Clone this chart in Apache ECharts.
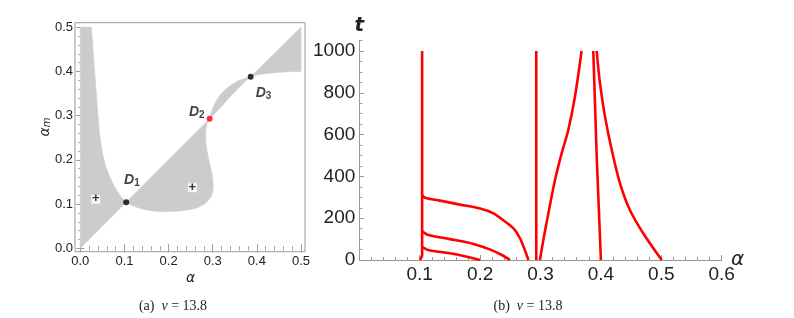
<!DOCTYPE html>
<html>
<head>
<meta charset="utf-8">
<script src="https://cdn.jsdelivr.net/npm/echarts@6/dist/echarts.min.js"></script>
<style>html,body{margin:0;padding:0;background:#fff}#c{width:794px;height:318px}</style>
</head>
<body>
<div id="c"></div>
<script>
// ---------- Panel (a) data ----------
const ticksA = [0, 0.1, 0.2, 0.3, 0.4, 0.5];
const regionLeft = [[0,0],[0.104,0.104],[0.092,0.117],[0.082,0.132],[0.072,0.150],[0.064,0.168],[0.057,0.188],[0.051,0.212],[0.047,0.235],[0.043,0.265],[0.040,0.300],[0.037,0.340],[0.034,0.380],[0.031,0.420],[0.028,0.460],[0.025,0.5],[0,0.5]];
const regionMiddle = [[0.104,0.104],[0.293,0.293],[0.287,0.282],[0.284,0.265],[0.284,0.245],[0.286,0.228],[0.289,0.210],[0.293,0.192],[0.297,0.175],[0.300,0.158],[0.301,0.142],[0.300,0.128],[0.296,0.116],[0.288,0.106],[0.278,0.098],[0.265,0.092],[0.250,0.088],[0.230,0.085],[0.205,0.083],[0.180,0.083],[0.160,0.085],[0.140,0.089],[0.125,0.094],[0.113,0.099]];
const regionLens = [[0.293,0.293],[0.296,0.305],[0.300,0.317],[0.306,0.330],[0.314,0.343],[0.323,0.354],[0.334,0.364],[0.346,0.372],[0.358,0.379],[0.372,0.384],[0.386,0.388],[0.375,0.379],[0.362,0.366],[0.348,0.352],[0.334,0.337],[0.320,0.321],[0.307,0.307]];
const regionRight = [[0.386,0.388],[0.5,0.5],[0.5,0.400],[0.47,0.3995],[0.44,0.397],[0.42,0.395],[0.405,0.393],[0.395,0.391]];
const pointsD = [[0.104,0.104],[0.293,0.293],[0.386,0.388]];
const pointColors = ['#000000','#ff0000','#000000'];
const dSubscripts = ['1','2','3'];
const dLabelPos = [[0.117,0.155],[0.264,0.307],[0.415,0.351]];
const plusPoints = [[0.035,0.111],[0.254,0.137]];

// ---------- Panel (b) data ----------
const ticksBx = [0.1, 0.2, 0.3, 0.4, 0.5, 0.6];
const ticksBy = [0, 200, 400, 600, 800, 1000];
const curveVert1 = [[0.1005,0],[0.104,20],[0.104,1000]];
const curveTop = [[0.104,312],[0.106,304],[0.1116,295],[0.1336,284],[0.1667,265],[0.2,246],[0.222,223],[0.238,191],[0.255,152],[0.266,104],[0.274,48],[0.280,0]];
const curveMid = [[0.104,138],[0.106,133],[0.114,120],[0.150,100],[0.189,77],[0.216,51],[0.236,24],[0.2495,0]];
const curveLow = [[0.104,64],[0.106,59],[0.114,48],[0.150,32],[0.178,16],[0.2,0]];
const curveVert2 = [[0.293,0],[0.293,1000]];
const curveRise = [[0.299,0],[0.3047,96],[0.313,223],[0.324,383],[0.335,510],[0.346,622],[0.357,781],[0.368,1000]];
const curveSteep = [[0.3874,1000],[0.393,500],[0.400,0]];
const curveFall = [[0.393,1000],[0.3985,845],[0.4068,686],[0.418,526],[0.4316,367],[0.448,239],[0.470,128],[0.5007,0]];

const near = (v, arr) => arr.some(t => Math.abs(v - t) < 1e-6);
const GRAY = '#999999';
const TXT = '#222222';
const SANS = 'Liberation Sans, Arial, sans-serif';

const chart = echarts.init(document.getElementById('c'), null, {renderer: 'canvas'});

function polySeries(points) {
  return {
    type: 'custom', xAxisIndex: 0, yAxisIndex: 0, silent: true, z: 1,
    data: [points[0]],
    renderItem: function (params, api) {
      return {type: 'polygon', shape: {points: points.map(p => api.coord(p))}, style: {fill: '#cccccc', stroke: '#cccccc', lineWidth: 0.6}};
    }
  };
}

function redLine(data, smooth) {
  return {type: 'line', xAxisIndex: 2, yAxisIndex: 2, data: data, showSymbol: false, symbol: 'none', smooth: smooth, silent: true,
    lineStyle: {color: '#ff0000', width: 2.6}, z: 3};
}

const aTickBase = {inside: true, lineStyle: {color: GRAY}};
const option = {
  animation: false,
  grid: [
    {left: 80.3, top: 27.3, width: 220.7, height: 221, containLabel: false},
    {left: 359.3, top: 40.55, width: 362.4, height: 219.45, containLabel: false}
  ],
  xAxis: [
    {gridIndex: 0, type: 'value', min: 0, max: 0.5, interval: 0.1, position: 'bottom', offset: 3.4,
      axisLine: {show: false}, splitLine: {show: false},
      axisTick: Object.assign({length: 4}, aTickBase),
      minorTick: {show: true, splitNumber: 5, length: 2, lineStyle: {color: GRAY}},
      axisLabel: {margin: 3, fontSize: 13, color: TXT, fontFamily: SANS, formatter: v => near(v, ticksA) ? v.toFixed(1) : ''},
      name: 'α', nameLocation: 'middle', nameGap: 20, nameMoveOverlap: false, nameTextStyle: {fontSize: 14, fontStyle: 'italic', color: TXT, fontFamily: 'DejaVu Sans'}},
    {gridIndex: 0, type: 'value', min: 0, max: 0.5, interval: 0.1, position: 'top', offset: 4.6,
      axisLine: {show: false}, splitLine: {show: false}, axisLabel: {show: false},
      axisTick: Object.assign({length: 4}, aTickBase),
      minorTick: {show: true, splitNumber: 5, length: 2, lineStyle: {color: GRAY}}},
    {gridIndex: 1, type: 'value', min: 0, max: 0.6, interval: 0.02, position: 'bottom',
      axisLine: {show: true, lineStyle: {color: GRAY, width: 1}}, splitLine: {show: false},
      axisTick: {inside: true, length: 3, lineStyle: {color: GRAY}},
      axisLabel: {margin: 5, fontSize: 19, color: TXT, fontFamily: SANS, showMinLabel: false, formatter: v => near(v, ticksBx) ? v.toFixed(1) : ''},
      name: 'α', nameLocation: 'end', nameGap: 16, nameMoveOverlap: false, nameTextStyle: {fontSize: 20, fontStyle: 'italic', color: TXT, fontFamily: 'DejaVu Sans', align: 'center', verticalAlign: 'middle', padding: [4,0,0,0]}},
    {gridIndex: 1, type: 'value', min: 0, max: 0.6, interval: 0.1, position: 'bottom',
      axisLine: {show: false}, splitLine: {show: false}, axisLabel: {show: false},
      axisTick: {inside: true, length: 5, lineStyle: {color: GRAY}}}
  ],
  yAxis: [
    {gridIndex: 0, type: 'value', min: 0, max: 0.5, interval: 0.1, position: 'left', offset: 5.3,
      axisLine: {show: false}, splitLine: {show: false},
      axisTick: Object.assign({length: 4}, aTickBase),
      minorTick: {show: true, splitNumber: 5, length: 2, lineStyle: {color: GRAY}},
      axisLabel: {margin: 2, fontSize: 13, color: TXT, fontFamily: SANS, formatter: v => near(v, ticksA) ? v.toFixed(1) : ''}},
    {gridIndex: 0, type: 'value', min: 0, max: 0.5, interval: 0.1, position: 'right', offset: 4,
      axisLine: {show: false}, splitLine: {show: false}, axisLabel: {show: false},
      axisTick: Object.assign({length: 4}, aTickBase),
      minorTick: {show: true, splitNumber: 5, length: 2, lineStyle: {color: GRAY}}},
    {gridIndex: 1, type: 'value', min: 0, max: 1050, interval: 50, position: 'left',
      axisLine: {show: true, lineStyle: {color: GRAY, width: 1}}, splitLine: {show: false},
      axisTick: {inside: true, length: 3, lineStyle: {color: GRAY}},
      axisLabel: {margin: 4, fontSize: 19, color: TXT, fontFamily: SANS, formatter: v => near(v, ticksBy) ? String(v) : ''},
      name: 't', nameLocation: 'end', nameGap: 5, nameMoveOverlap: false, nameTextStyle: {fontSize: 20, fontStyle: 'italic', fontWeight: 'bold', color: TXT, fontFamily: 'DejaVu Sans', align: 'center'}},
    {gridIndex: 1, type: 'value', min: 0, max: 1050, interval: 200, position: 'left',
      axisLine: {show: false}, splitLine: {show: false}, axisLabel: {show: false},
      axisTick: {inside: true, length: 5, lineStyle: {color: GRAY}, customValues: ticksBy}}
  ],
  graphic: [
    {type: 'rect', shape: {x: 75, y: 22.7, width: 230, height: 229}, style: {fill: 'none', stroke: GRAY, lineWidth: 1}, z: 10, silent: true},
    {type: 'text', x: 45, y: 127, rotation: Math.PI / 2, z: 10,
      style: {text: '{a|α}{m|m}', align: 'center', verticalAlign: 'middle', fill: TXT,
        rich: {a: {fontSize: 14, fontStyle: 'italic', fontFamily: 'DejaVu Sans', fill: TXT}, m: {fontSize: 10, fontStyle: 'italic', fontFamily: 'DejaVu Sans', fill: TXT, padding: [5, 0, 0, 0]}}}},
    {type: 'text', x: 173, y: 306, z: 10,
      style: {text: '(a)  {i|ν} = 13.8', align: 'center', verticalAlign: 'middle', fill: TXT, fontSize: 14, fontFamily: 'Liberation Serif',
        rich: {i: {fontSize: 14, fontStyle: 'italic', fontFamily: 'Liberation Serif', fill: TXT}}}},
    {type: 'text', x: 528, y: 306, z: 10,
      style: {text: '(b)  {i|ν} = 13.8', align: 'center', verticalAlign: 'middle', fill: TXT, fontSize: 14, fontFamily: 'Liberation Serif',
        rich: {i: {fontSize: 14, fontStyle: 'italic', fontFamily: 'Liberation Serif', fill: TXT}}}}
  ],
  series: [
    polySeries(regionLeft),
    polySeries(regionMiddle),
    polySeries(regionLens),
    polySeries(regionRight),
    {type: 'scatter', xAxisIndex: 0, yAxisIndex: 0, silent: true, z: 4,
      data: plusPoints, symbol: 'rect', symbolSize: [9, 9], itemStyle: {color: '#ffffff'},
      label: {show: true, position: 'inside', formatter: '+', color: '#000', fontSize: 13, fontWeight: 'bold', fontFamily: SANS, offset: [0, -0.5]}},
    {type: 'scatter', xAxisIndex: 0, yAxisIndex: 0, silent: true, z: 5,
      data: pointsD.map((p, i) => ({value: p, itemStyle: {color: pointColors[i]}})), symbol: 'circle', symbolSize: 6},
    {type: 'scatter', xAxisIndex: 0, yAxisIndex: 0, silent: true, z: 5,
      data: dLabelPos, symbolSize: 0,
      label: {show: true, position: 'inside', formatter: p => '{d|D}{s|' + dSubscripts[p.dataIndex] + '}',
        rich: {d: {fontSize: 14, fontStyle: 'italic', fontWeight: 'bold', fontFamily: SANS, color: '#111'},
               s: {fontSize: 10, fontWeight: 'bold', fontFamily: SANS, color: '#111', padding: [6, 0, 0, 0]}}}},
    redLine(curveVert1, false),
    redLine(curveTop, 0.3),
    redLine(curveMid, 0.3),
    redLine(curveLow, 0.3),
    redLine(curveVert2, false),
    redLine(curveRise, 0.3),
    redLine(curveSteep, false),
    redLine(curveFall, 0.3)
  ]
};
chart.setOption(option);
</script>
</body>
</html>
